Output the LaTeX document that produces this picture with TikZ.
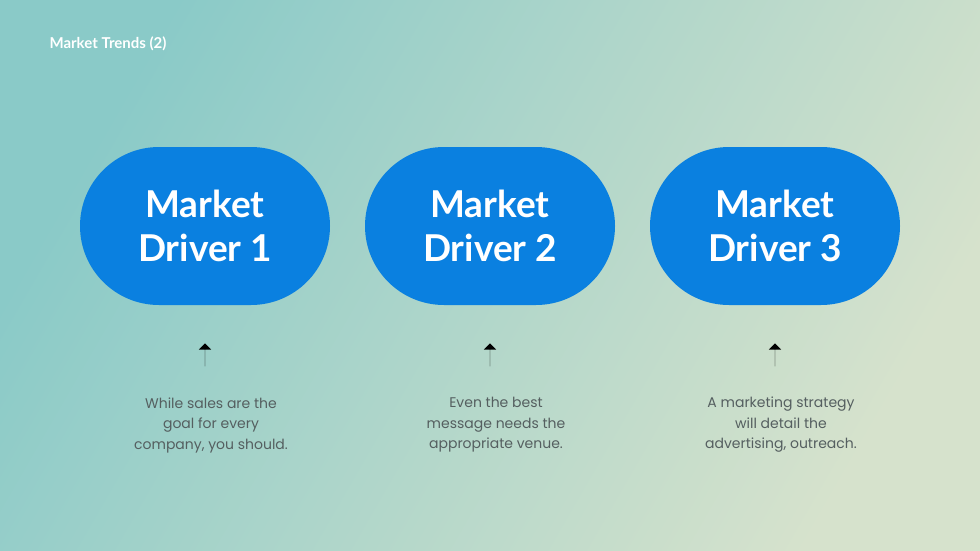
\documentclass[tikz,border=0pt]{standalone}
\usepackage{fontspec}
\setmainfont{Lato}
\newfontfamily\bodyfont{Poppins}
\usetikzlibrary{shapes.arrows,shadings}
\definecolor{pillblue}{HTML}{0A80E0}
\definecolor{bodygray}{HTML}{555F60}
\definecolor{bgul}{RGB}{138,202,200}
\definecolor{bglr}{RGB}{214,226,204}
\tikzset{
 pill/.style={draw=none,fill=pillblue,rounded corners=79pt,minimum width=250pt,minimum height=158pt,text=white,font=\fontsize{37}{44}\selectfont\bfseries,align=center,inner sep=0pt},
 uparrow/.style={single arrow,fill=black,draw=none,shape border rotate=90,minimum height=23pt,minimum width=10pt,single arrow head extend=6pt,single arrow tip angle=90,inner sep=0pt},
 desc/.style={text=bodygray,font=\bodyfont\fontsize{14}{20.5}\selectfont,align=center}
}
\begin{document}
\begin{tikzpicture}[x=1pt,y=-1pt]
\useasboundingbox (0,0) rectangle (980,551);
\shade[left color=bgul,right color=bglr,shading angle=60] (0,0) rectangle (980,551);
\node[anchor=west,text=white,font=\fontsize{15}{18}\selectfont\bfseries] (title) at (46,44) {Market Trends (2)};
\node[pill] (p1) at (205,226) {Market\\Driver 1};
\node[pill] (p2) at (490,226) {Market\\Driver 2};
\node[pill] (p3) at (775,226) {Market\\Driver 3};
\node[uparrow] (a1) at (205,355) {};
\node[uparrow] (a2) at (490,355) {};
\node[uparrow] (a3) at (775,355) {};
\node[desc] (d1) at (211,425) {While sales are the\\goal for every\\company, you should.};
\node[desc] (d2) at (496,425) {Even the best\\message needs the\\appropriate venue.};
\node[desc] (d3) at (781,425) {A marketing strategy\\will detail the\\advertising, outreach.};
\end{tikzpicture}
\end{document}
